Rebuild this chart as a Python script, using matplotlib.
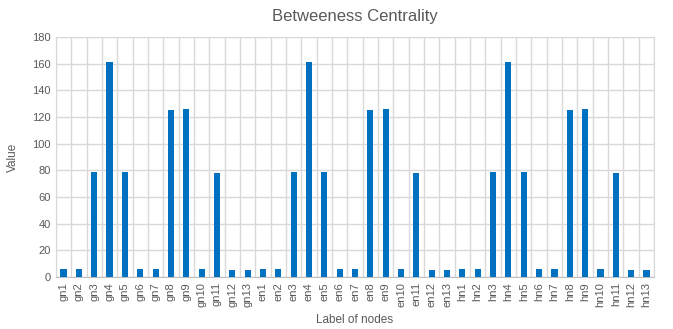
import numpy as np
import matplotlib.pyplot as plt

plt.rcParams['font.family'] = ['Liberation Sans', 'DejaVu Sans']

# node labels, three groups of 13
labels = ['gn%d' % i for i in range(1, 14)] + \
         ['en%d' % i for i in range(1, 14)] + \
         ['hn%d' % i for i in range(1, 14)]

# betweenness per node
gn_vals = [6, 6, 79, 161.5, 79, 6, 6, 125.5, 126, 6, 78, 5.2, 5.2]
en_vals = [6, 6, 79, 161.5, 79, 6, 6, 125.5, 126, 6, 78, 5.2, 5.2]
hn_vals = [6, 6, 79, 161.5, 79, 6, 6, 125.5, 126, 6, 78, 5.2, 5.2]
values = gn_vals + en_vals + hn_vals

text_col = '#595959'
grid_col = '#d9d9d9'

fig = plt.figure(figsize=(6.73, 3.29), dpi=100)
ax = fig.add_axes([0.083, 0.158, 0.889, 0.729])

x = np.arange(len(labels))
ax.bar(x, values, width=0.4, color='#0070c0', zorder=3)

ax.set_xlim(-0.5, len(labels) - 0.5)
ax.set_ylim(0, 180)
ax.set_yticks(np.arange(0, 181, 20))
ax.set_xticks(x)
ax.set_xticklabels(labels, rotation=90)

# vertical grid at category boundaries
ax.set_xticks(np.arange(-0.5, len(labels), 1), minor=True)
ax.grid(True, which='minor', axis='x', color=grid_col, linewidth=1, zorder=0)
ax.grid(True, which='major', axis='y', color=grid_col, linewidth=1, zorder=0)
ax.tick_params(which='both', length=0, colors=text_col, labelsize=8)
ax.tick_params(axis='y', labelsize=8)

for s in ['top', 'right', 'left']:
    ax.spines[s].set_color(grid_col)
ax.spines['bottom'].set_color('#bfbfbf')

ax.set_title('Betweeness Centrality', color=text_col, fontsize=12, pad=12)
ax.set_xlabel('Label of nodes', color=text_col, fontsize=8.5, labelpad=5)
ax.set_ylabel('Value', color=text_col, fontsize=8.5, labelpad=10)

fig.savefig('out.png', dpi=100)
